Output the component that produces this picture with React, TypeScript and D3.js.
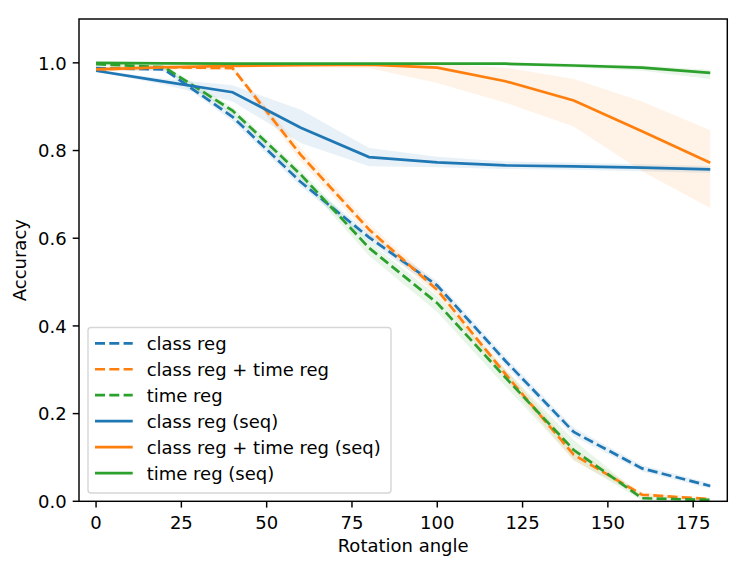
import React, { useRef, useEffect } from 'react';
import * as d3 from 'd3';

// rotation angles (x)
const angles = [0, 20, 40, 60, 80, 100, 120, 140, 160, 180];

// dashed series
const classReg = [0.988, 0.985, 0.877, 0.728, 0.602, 0.492, 0.32, 0.158, 0.075, 0.035];
const classRegLo = [0.985, 0.98, 0.867, 0.718, 0.592, 0.482, 0.31, 0.148, 0.068, 0.029];
const classRegHi = [0.991, 0.99, 0.887, 0.738, 0.612, 0.502, 0.33, 0.168, 0.083, 0.041];

const classTimeReg = [0.985, 0.99, 0.988, 0.79, 0.62, 0.482, 0.29, 0.106, 0.015, 0.005];
const classTimeRegLo = [0.98, 0.985, 0.983, 0.775, 0.607, 0.47, 0.278, 0.092, 0.01, 0.002];
const classTimeRegHi = [0.99, 0.995, 0.993, 0.805, 0.633, 0.494, 0.302, 0.12, 0.02, 0.008];

const timeReg = [0.997, 0.99, 0.891, 0.745, 0.578, 0.452, 0.282, 0.117, 0.007, 0.003];
const timeRegLo = [0.995, 0.985, 0.883, 0.735, 0.56, 0.432, 0.262, 0.095, 0.002, 0.0];
const timeRegHi = [0.999, 0.995, 0.899, 0.755, 0.592, 0.468, 0.3, 0.14, 0.012, 0.006];

// solid (seq) series
const classRegSeq = [0.982, 0.957, 0.933, 0.852, 0.785, 0.773, 0.766, 0.764, 0.761, 0.757];
const classRegSeqLo = [0.98, 0.95, 0.912, 0.817, 0.764, 0.762, 0.758, 0.756, 0.753, 0.749];
const classRegSeqHi = [0.984, 0.964, 0.949, 0.893, 0.806, 0.786, 0.775, 0.772, 0.769, 0.765];

const classTimeRegSeq = [0.985, 0.99, 0.993, 0.995, 0.996, 0.989, 0.958, 0.914, 0.844, 0.772];
const classTimeRegSeqLo = [0.98, 0.985, 0.99, 0.99, 0.988, 0.954, 0.909, 0.855, 0.753, 0.669];
const classTimeRegSeqHi = [0.99, 0.995, 0.997, 0.999, 1.0, 0.998, 0.989, 0.963, 0.912, 0.846];

const timeRegSeq = [1.0, 0.999, 0.998, 0.998, 0.998, 0.998, 0.998, 0.994, 0.989, 0.977];
const timeRegSeqLo = [0.999, 0.997, 0.996, 0.996, 0.996, 0.995, 0.994, 0.989, 0.982, 0.963];
const timeRegSeqHi = [1.0, 1.0, 1.0, 1.0, 1.0, 1.0, 1.0, 0.998, 0.994, 0.984];

const xTicks = [0, 25, 50, 75, 100, 125, 150, 175];
const yTicks = [0.0, 0.2, 0.4, 0.6, 0.8, 1.0];

const blue = '#1f77b4';
const orange = '#ff7f0e';
const green = '#2ca02c';

const series = [
  { label: 'class reg', values: classReg, lo: classRegLo, hi: classRegHi, color: blue, dashed: true },
  { label: 'class reg + time reg', values: classTimeReg, lo: classTimeRegLo, hi: classTimeRegHi, color: orange, dashed: true },
  { label: 'time reg', values: timeReg, lo: timeRegLo, hi: timeRegHi, color: green, dashed: true },
  { label: 'class reg (seq)', values: classRegSeq, lo: classRegSeqLo, hi: classRegSeqHi, color: blue, dashed: false },
  { label: 'class reg + time reg (seq)', values: classTimeRegSeq, lo: classTimeRegSeqLo, hi: classTimeRegSeqHi, color: orange, dashed: false },
  { label: 'time reg (seq)', values: timeRegSeq, lo: timeRegSeqLo, hi: timeRegSeqHi, color: green, dashed: false },
];

const App: React.FC = () => {
  const ref = useRef<SVGSVGElement>(null);

  useEffect(() => {
    const svg = d3.select(ref.current);
    svg.selectAll('*').remove();
    const width = 747;
    const height = 570;
    const margin = { top: 19, right: 19.7, bottom: 68.7, left: 79 };
    const font = 'DejaVu Sans';

    svg.attr('width', width).attr('height', height);

    const x = d3.scaleLinear().domain([-5, 185]).range([margin.left, width - margin.right]);
    const y = d3.scaleLinear().domain([0, 1.1]).range([height - margin.bottom, margin.top]);

    // bands
    series.forEach(s => {
      svg.append('path')
        .attr('fill', s.color)
        .attr('fill-opacity', 0.1)
        .attr('d', d3.area<number>()
          .x(d => x(d))
          .y0((_, i) => y(s.lo[i]))
          .y1((_, i) => y(s.hi[i]))(angles));
    });

    // lines
    series.forEach(s => {
      svg.append('path')
        .attr('fill', 'none')
        .attr('stroke', s.color)
        .attr('stroke-width', 2.7)
        .attr('stroke-dasharray', s.dashed ? '10,4.3' : null)
        .attr('d', d3.line<number>()
          .x(d => x(d))
          .y((_, i) => y(s.values[i]))(angles));
    });

    // frame
    svg.append('rect')
      .attr('x', margin.left)
      .attr('y', margin.top)
      .attr('width', width - margin.right - margin.left)
      .attr('height', height - margin.bottom - margin.top)
      .attr('fill', 'none')
      .attr('stroke', '#000')
      .attr('stroke-width', 1.45);

    // x ticks
    const xg = svg.append('g');
    xTicks.forEach(t => {
      xg.append('line')
        .attr('x1', x(t)).attr('x2', x(t))
        .attr('y1', y(0)).attr('y2', y(0) + 6.3)
        .attr('stroke', '#000').attr('stroke-width', 1.45);
      xg.append('text')
        .attr('x', x(t)).attr('y', y(0) + 27.2)
        .attr('text-anchor', 'middle')
        .attr('font-family', font).attr('font-size', 18)
        .text(String(t));
    });

    // y ticks
    const yg = svg.append('g');
    yTicks.forEach(t => {
      yg.append('line')
        .attr('x1', margin.left - 6.3).attr('x2', margin.left)
        .attr('y1', y(t)).attr('y2', y(t))
        .attr('stroke', '#000').attr('stroke-width', 1.45);
      yg.append('text')
        .attr('x', margin.left - 12.3).attr('y', y(t) + 6.8)
        .attr('text-anchor', 'end')
        .attr('font-family', font).attr('font-size', 18)
        .text(t.toFixed(1));
    });

    // axis labels
    svg.append('text')
      .attr('x', (margin.left + width - margin.right) / 2)
      .attr('y', 552)
      .attr('text-anchor', 'middle')
      .attr('font-family', font).attr('font-size', 18)
      .text('Rotation angle');

    svg.append('text')
      .attr('transform', `translate(26,${(margin.top + height - margin.bottom) / 2}) rotate(-90)`)
      .attr('text-anchor', 'middle')
      .attr('font-family', font).attr('font-size', 18)
      .text('Accuracy');

    // legend
    const lg = svg.append('g');
    lg.append('rect')
      .attr('x', 88).attr('y', 327.5)
      .attr('width', 303).attr('height', 165.5)
      .attr('rx', 3).attr('ry', 3)
      .attr('fill', '#fff').attr('fill-opacity', 0.8)
      .attr('stroke', '#d6d6d6').attr('stroke-width', 1.4);

    series.forEach((s, i) => {
      const cy = 343.3 + i * 25.95;
      lg.append('line')
        .attr('x1', 95).attr('x2', 132.7)
        .attr('y1', cy).attr('y2', cy)
        .attr('stroke', s.color)
        .attr('stroke-width', 2.7)
        .attr('stroke-dasharray', s.dashed ? '10,4.3' : null);
      lg.append('text')
        .attr('x', 146.7).attr('y', cy + 6.5)
        .attr('font-family', font).attr('font-size', 18)
        .text(s.label);
    });
  }, []);

  return <svg ref={ref} style={{ position: 'absolute', left: 0, top: 0 }}></svg>;
};

export default App;
